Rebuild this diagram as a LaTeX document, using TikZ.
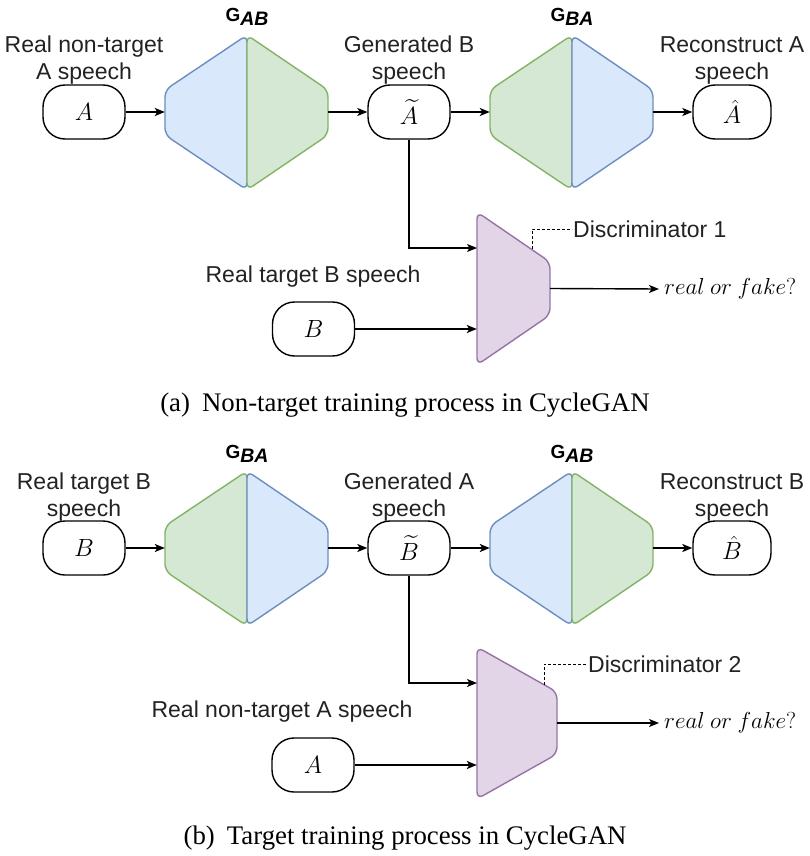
\documentclass[tikz,border=0pt]{standalone}
\usepackage{fontspec}
\setmainfont{Liberation Serif}
\setsansfont{Liberation Sans}
\usepackage{amsmath}
\usetikzlibrary{arrows.meta}
\definecolor{blueF}{HTML}{DAE8FC}
\definecolor{blueD}{HTML}{6C8EBF}
\definecolor{greenF}{HTML}{D5E8D4}
\definecolor{greenD}{HTML}{82B366}
\definecolor{purF}{HTML}{E1D5E7}
\definecolor{purD}{HTML}{9673A6}
\definecolor{txt}{HTML}{222222}
\newcommand\gLabel[1]{{\fontsize{19}{22}\selectfont\bfseries\raisebox{4pt}{G}}{\fontsize{19.5}{22}\selectfont\bfseries\itshape #1}}
\newcommand\rfText{\scalebox{0.93}{$real\ or\ fake?$}}
\tikzset{
  pill/.style={draw, line width=1.4pt, rounded corners=22pt, minimum width=82pt, minimum height=54pt, fill=white, inner sep=0pt, font=\fontsize{24}{28}\selectfont},
  lbl/.style={font=\sffamily\fontsize{23}{27}\selectfont, text=txt, inner sep=0pt},
  glbl/.style={font=\sffamily, text=black, inner sep=0pt, anchor=base},
  ghost/.style={inner sep=0pt, draw=none},
  arr/.style={-{Stealth[length=10pt,width=8pt,inset=2.5pt]}, line width=1.4pt},
  dots/.style={line width=1pt, dash pattern=on 3pt off 2pt},
  shp/.style={line width=1.4pt, rounded corners=7pt},
  captext/.style={font=\rmfamily\fontsize{26.8}{30}\selectfont, inner sep=0pt},
  rf/.style={anchor=west, inner sep=0pt, font=\fontsize{24}{28}\selectfont}
}
\begin{document}
\begin{tikzpicture}[x=1pt,y=-1pt]
\useasboundingbox (0,0) rectangle (809,856);

% ================= Panel (a) =================
% generator G_AB (blue | green)
\filldraw[shp, fill=blueF, draw=blueD] (247,35) -- (165,90) -- (165,135) -- (247,190) -- cycle;
\filldraw[shp, fill=greenF, draw=greenD] (247,35) -- (328,90) -- (328,135) -- (247,190) -- cycle;
\node[ghost, minimum width=163pt, minimum height=155pt] (gab1) at (246.5,112.5) {};
\node[glbl] (gab1l) at (247,26) {\gLabel{AB}};
% generator G_BA (green | blue)
\filldraw[shp, fill=greenF, draw=greenD] (572,35) -- (490,90) -- (490,135) -- (572,190) -- cycle;
\filldraw[shp, fill=blueF, draw=blueD] (572,35) -- (653,90) -- (653,135) -- (572,190) -- cycle;
\node[ghost, minimum width=163pt, minimum height=155pt] (gba1) at (571.5,112.5) {};
\node[glbl] (gba1l) at (572,26) {\gLabel{BA}};
% discriminator 1
\filldraw[shp, fill=purF, draw=purD] (477,212) -- (550,262) -- (550,315) -- (477,365) -- cycle;
\node[ghost, minimum width=73pt, minimum height=153pt] (d1) at (513.5,288.5) {};

% texts
\node[lbl, anchor=base] (t1a) at (84,53) {Real non-target};
\node[lbl, anchor=base] (t1b) at (84,80) {A speech};
\node[lbl, anchor=base] (t2a) at (409,53) {Generated B};
\node[lbl, anchor=base] (t2b) at (409,80) {speech};
\node[lbl, anchor=base] (t3a) at (732,53) {Reconstruct A};
\node[lbl, anchor=base] (t3b) at (732,80) {speech};
\node[lbl, anchor=base] (t4) at (313,282) {Real target B speech};

% nodes
\node[pill] (a1) at (84,112) {$A$};
\node[pill] (at1) at (409,112) {$\widetilde{A}$};
\node[pill, minimum width=78pt] (ah1) at (732,112) {$\hat{A}$};
\node[pill] (b1) at (313.5,329) {$B$};
\node[rf] (rf1) at (664,289) {\rfText};
\node[lbl, anchor=west] (dl1) at (573,229) {Discriminator 1};
\coordinate (dd1) at (532,249);
\coordinate (d1in) at (477,248);

% connectors
\draw[arr] (a1.east) -- (a1.east -| gab1.west);
\draw[arr] (at1.west -| gab1.east) -- (at1.west);
\draw[arr] (at1.east) -- (at1.east -| gba1.west);
\draw[arr] (ah1.west -| gba1.east) -- (ah1.west);
\draw[arr] (at1.south) |- (d1in);
\draw[arr] (b1.east) -- (b1.east -| d1.west);
\draw[arr] (d1.east) -- ([xshift=-5pt]rf1.west);
\draw[dots] (dd1) |- ([xshift=-1pt]dl1.west);

\node[captext] (capa) at (405,405) {(a)\hspace{0.45em}Non-target training process in CycleGAN};

% ================= Panel (b) =================
% generator G_BA (green | blue)
\filldraw[shp, fill=greenF, draw=greenD] (247,471) -- (165,526) -- (165,571) -- (247,626) -- cycle;
\filldraw[shp, fill=blueF, draw=blueD] (247,471) -- (328,526) -- (328,571) -- (247,626) -- cycle;
\node[ghost, minimum width=163pt, minimum height=155pt] (gba2) at (246.5,548.5) {};
\node[glbl] (gba2l) at (247,462) {\gLabel{BA}};
% generator G_AB (blue | green)
\filldraw[shp, fill=blueF, draw=blueD] (572,471) -- (490,526) -- (490,571) -- (572,626) -- cycle;
\filldraw[shp, fill=greenF, draw=greenD] (572,471) -- (653,526) -- (653,571) -- (572,626) -- cycle;
\node[ghost, minimum width=163pt, minimum height=155pt] (gab2) at (571.5,548.5) {};
\node[glbl] (gab2l) at (572,462) {\gLabel{AB}};
% discriminator 2
\filldraw[shp, fill=purF, draw=purD] (477,647) -- (557,692) -- (557,754) -- (477,799) -- cycle;
\node[ghost, minimum width=80pt, minimum height=152pt] (d2) at (517,723) {};

% texts
\node[lbl, anchor=base] (s1a) at (84,489) {Real target B};
\node[lbl, anchor=base] (s1b) at (84,516) {speech};
\node[lbl, anchor=base] (s2a) at (409,489) {Generated A};
\node[lbl, anchor=base] (s2b) at (409,516) {speech};
\node[lbl, anchor=base] (s3a) at (732,489) {Reconstruct B};
\node[lbl, anchor=base] (s3b) at (732,516) {speech};
\node[lbl, anchor=base] (s4) at (282,717) {Real non-target A speech};

% nodes
\node[pill] (b2) at (84,548) {$B$};
\node[pill] (bt2) at (409,548) {$\widetilde{B}$};
\node[pill, minimum width=78pt] (bh2) at (732,548) {$\hat{B}$};
\node[pill] (a2) at (313,765) {$A$};
\node[rf] (rf2) at (664,723) {\rfText};
\node[lbl, anchor=west] (dl2) at (588,664) {Discriminator 2};
\coordinate (dd2) at (544,685);
\coordinate (d2in) at (477,683);

% connectors
\draw[arr] (b2.east) -- (b2.east -| gba2.west);
\draw[arr] (bt2.west -| gba2.east) -- (bt2.west);
\draw[arr] (bt2.east) -- (bt2.east -| gab2.west);
\draw[arr] (bh2.west -| gab2.east) -- (bh2.west);
\draw[arr] (bt2.south) |- (d2in);
\draw[arr] (a2.east) -- (a2.east -| d2.west);
\draw[arr] (d2.east) -- ([xshift=-5pt]rf2.west);
\draw[dots] (dd2) |- ([xshift=-1pt]dl2.west);

\node[captext] (capb) at (405,838) {(b)\hspace{0.45em}Target training process in CycleGAN};
\end{tikzpicture}
\end{document}
